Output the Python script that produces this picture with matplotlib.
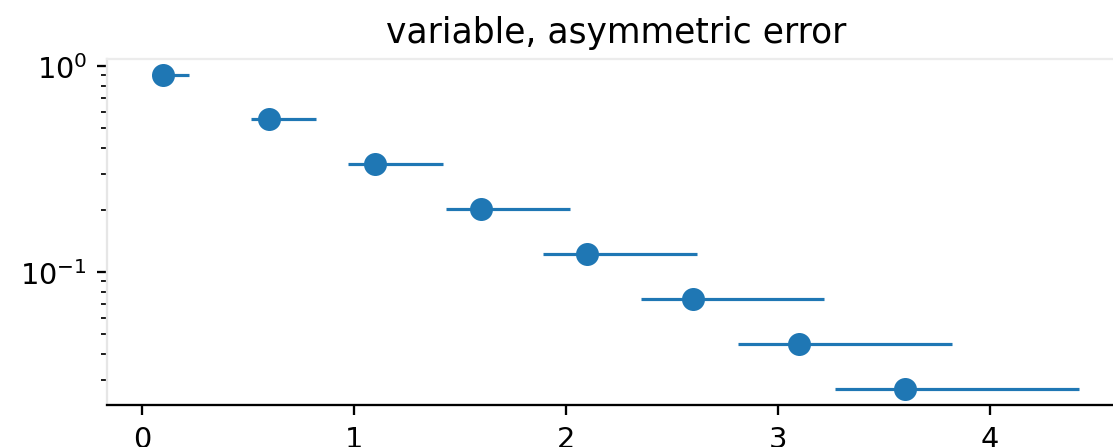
import matplotlib
matplotlib.use("Agg")
import matplotlib.pyplot as plt

# valores
x = [0.1, 0.6, 1.1, 1.6, 2.1, 2.6, 3.1, 3.6]
y = [0.905, 0.549, 0.333, 0.202, 0.122, 0.074, 0.045, 0.027]
lower_error = [0.048, 0.088, 0.128, 0.168, 0.208, 0.248, 0.288, 0.328]
upper_error = [0.12, 0.22, 0.32, 0.42, 0.52, 0.62, 0.72, 0.82]

dpi = 207
fig = plt.figure(figsize=(1113 / dpi, 448 / dpi), dpi=dpi)
ax = fig.add_axes([107 / 1113, 42 / 448, 1018 / 1113, 346 / 448])

ax.errorbar(x, y, xerr=[lower_error, upper_error], fmt='o', ms=7, elinewidth=1.1)
ax.set_title('variable, asymmetric error')
ax.set_yscale('log')

ax.spines['left'].set_color('#e6e6e6')
ax.spines['top'].set_color('#ececec')

fig.savefig('out.png', dpi=dpi)
